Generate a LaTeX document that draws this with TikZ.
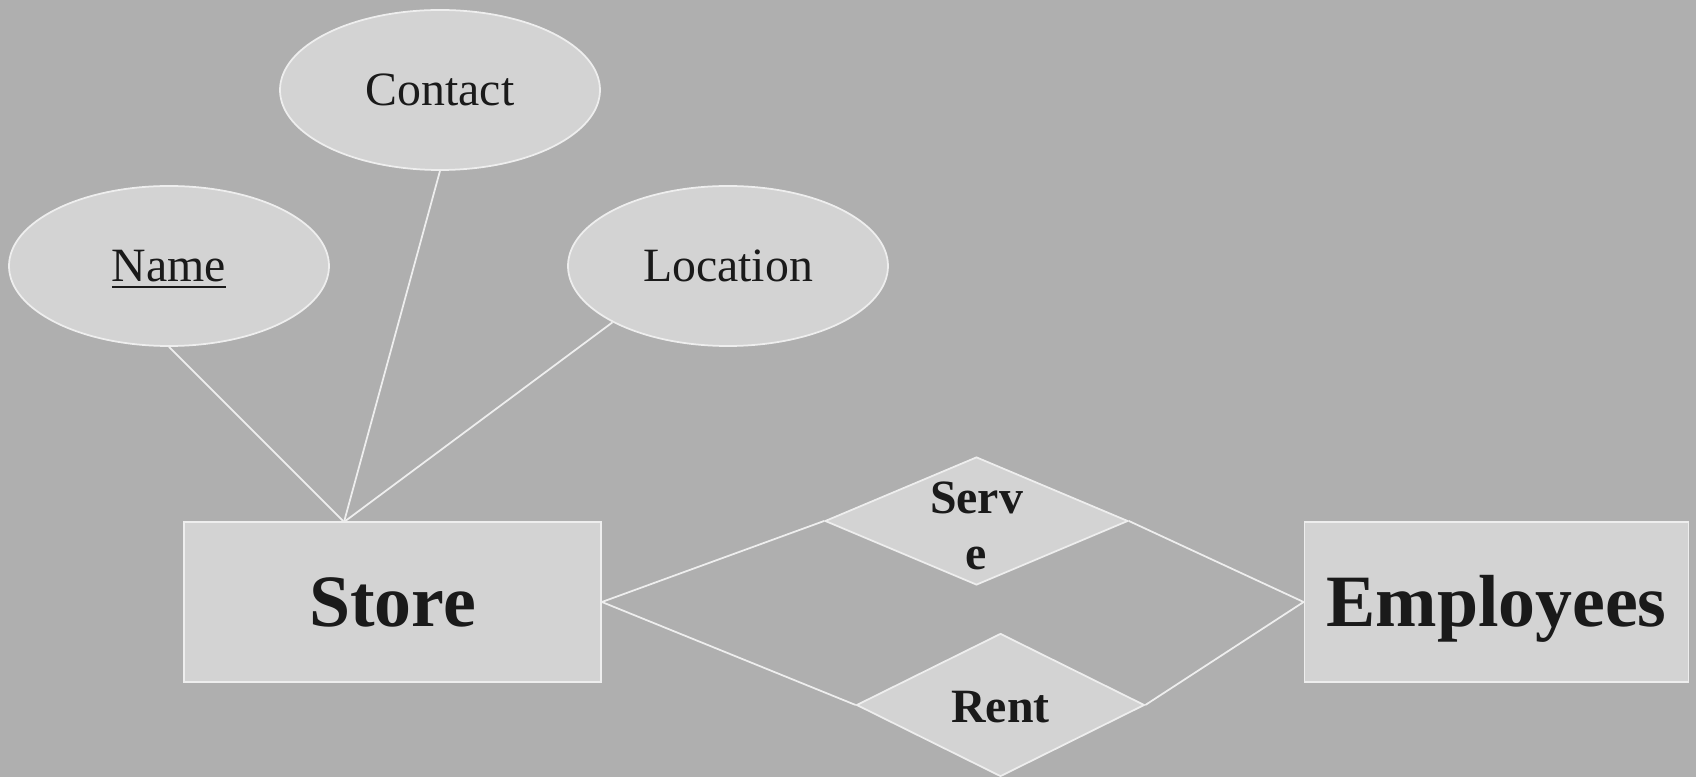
\documentclass[tikz,border=0pt]{standalone}
\usepackage{fontspec}
\setmainfont{Liberation Serif}
\usepackage{xcolor}
\usetikzlibrary{shapes.geometric}
\definecolor{bggray}{RGB}{175,175,175}
\definecolor{boxgray}{RGB}{211,211,211}
\definecolor{edgewhite}{RGB}{238,238,238}
\definecolor{inkdark}{RGB}{26,26,26}
\tikzset{
  erline/.style={draw=edgewhite,line width=0.5pt},
  entity/.style={shape=rectangle,erline,fill=boxgray,text=inkdark,inner sep=0pt,minimum height=1.6cm,text height=13.9pt,text depth=0pt,font=\fontsize{21}{25}\selectfont\bfseries},
  attrib/.style={shape=ellipse,erline,fill=boxgray,text=inkdark,inner sep=0pt,minimum width=3.2cm,minimum height=1.6cm,text height=9pt,text depth=0pt,font=\fontsize{13.6}{16}\selectfont},
  relation/.style={shape=diamond,erline,fill=boxgray,inner sep=0pt},
  rellabel/.style={text=inkdark,inner sep=0pt,align=center,font=\fontsize{13.6}{16}\selectfont\bfseries}
}
\begin{document}
\begin{tikzpicture}

\useasboundingbox (0,0) rectangle (16.96,-7.77);
\fill[bggray] (0,0) rectangle (16.96,-7.77);

\path (4.40,-0.90) node (contact) [attrib]{Contact};

\path (1.69,-2.66) node (name) [attrib]{\underline{Name}};

\path (7.28,-2.66) node (location) [attrib]{Location};

\path (3.925,-6.02) node (store) [entity,minimum width=4.17cm]{Store};

\path (14.965,-6.02) node (employees) [entity,minimum width=3.84cm]{Employees};

\path (9.765,-5.21) node (serve) [relation,minimum width=3.03cm,minimum height=1.28cm,label={[rellabel,yshift=-0.05cm]center:Serv\\e}]{};

\path (10.005,-7.05) node (rent) [relation,minimum width=2.88cm,minimum height=1.43cm,label={[rellabel,text height=9pt,text depth=0pt,yshift=-0.02cm]center:Rent}]{};

\coordinate (storetop) at (3.44,-5.22);

\draw[erline] (name.south) -- (storetop);
\draw[erline] (contact.south) -- (storetop);
\draw[erline] (location.206) -- (storetop);

\draw[erline] (store.east) -- (serve.west);
\draw[erline] (store.east) -- (rent.west);
\draw[erline] (employees.west) -- (serve.east);
\draw[erline] (employees.west) -- (rent.east);

\end{tikzpicture}
\end{document}
